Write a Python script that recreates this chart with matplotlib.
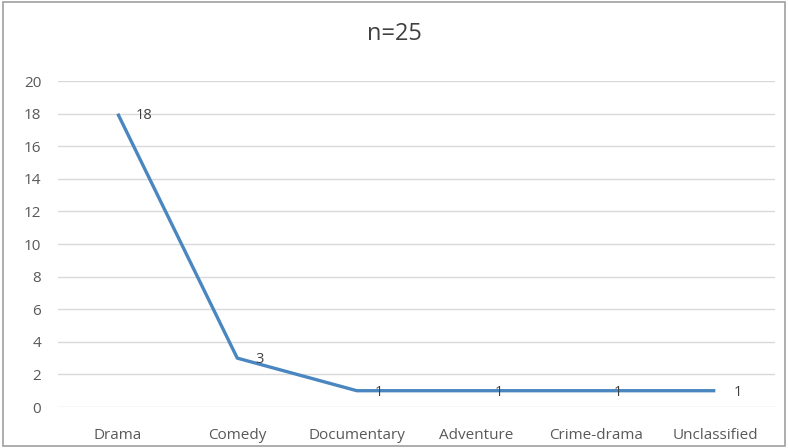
import matplotlib.pyplot as plt
from matplotlib.patches import Rectangle

# categories and counts
genres = ['Drama', 'Comedy', 'Documentary', 'Adventure', 'Crime-drama', 'Unclassified']
counts = [18, 3, 1, 1, 1, 1]
y_ticks = [0, 2, 4, 6, 8, 10, 12, 14, 16, 18, 20]

plt.rcParams['font.family'] = ['Open Sans', 'DejaVu Sans']

fig = plt.figure(figsize=(7.88, 4.48), dpi=100)
ax = fig.add_axes([0.0736, 0.0915, 0.91, 0.7275])

x = list(range(len(genres)))
ax.plot(x, counts, color='#4a86c0', linewidth=2.4, solid_capstyle='butt')

# data labels to the right of each point
for xi, v in zip(x, counts):
    ax.annotate(str(v), (xi, v), xytext=(13, -1), textcoords='offset points',
                ha='left', va='center', fontsize=10.5, color='#404040')

ax.set_xlim(-0.5, len(genres) - 0.5)
ax.set_ylim(0, 20)
ax.set_yticks(y_ticks)
ax.set_xticks(x)
ax.set_xticklabels(genres)
ax.tick_params(axis='both', length=0, labelsize=11, colors='#595959')
ax.tick_params(axis='x', pad=15)
ax.tick_params(axis='y', pad=12)
ax.grid(axis='y', color='#d9d9d9', linewidth=1)
ax.set_axisbelow(True)
for s in ax.spines.values():
    s.set_visible(False)

fig.suptitle('n=25', y=0.95, fontsize=17, color='#404040')

# outer frame
fig.patches.append(Rectangle((0.004, 0.004), 0.992, 0.992, transform=fig.transFigure,
                             fill=False, edgecolor='#a0a0a0', linewidth=1.2))

fig.savefig('out.png', dpi=100)
